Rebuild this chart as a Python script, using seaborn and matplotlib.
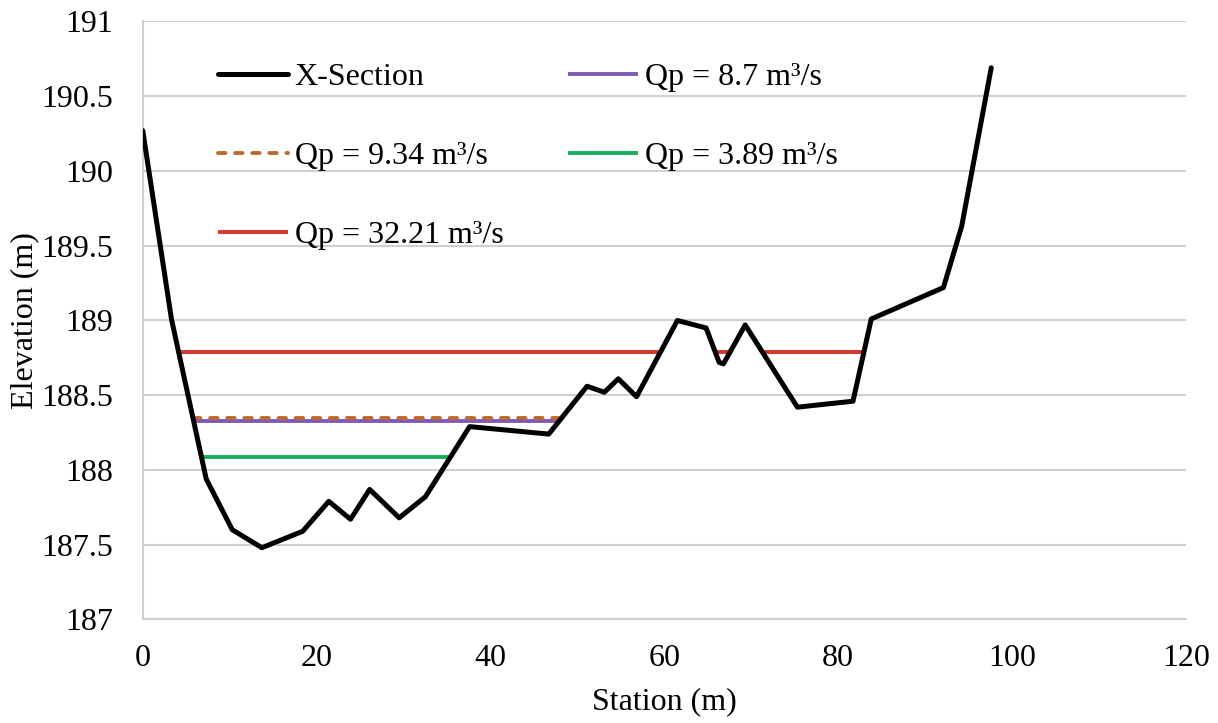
import numpy as np
import pandas as pd
import matplotlib
matplotlib.use("Agg")
import matplotlib.pyplot as plt
from matplotlib.lines import Line2D
import seaborn as sns

# Cross-section survey: station (m) and ground elevation (m)
station = [0.0, 3.3, 7.3, 10.3, 13.7, 18.4, 21.4, 23.9, 26.1, 29.5, 32.5, 37.6,
           46.7, 51.1, 53.1, 54.7, 56.8, 61.5, 64.8, 66.3, 66.8, 69.3, 75.3,
           81.7, 83.8, 92.1, 94.2, 97.6]
elevation = [190.27, 189.01, 187.94, 187.60, 187.48, 187.59, 187.79, 187.67,
             187.87, 187.68, 187.82, 188.29, 188.24, 188.56, 188.52, 188.61,
             188.49, 189.00, 188.95, 188.72, 188.71, 188.97, 188.42, 188.46,
             189.01, 189.22, 189.63, 190.69]

# Water surface elevations for each peak discharge
flow_labels = ["Qp = 8.7 m³/s", "Qp = 9.34 m³/s", "Qp = 3.89 m³/s", "Qp = 32.21 m³/s"]
water_levels = [188.33, 188.35, 188.09, 188.79]
flow_colors = ["#7E5BB6", "#C0692F", "#17AE5C", "#D8332A"]
flow_dashed = [False, True, False, False]

y_ticks = [187, 187.5, 188, 188.5, 189, 189.5, 190, 190.5, 191]
x_ticks = [0, 20, 40, 60, 80, 100, 120]

FS = 23
LW_GROUND = 3.6
LW_WATER = 2.8
DASH = (0, (1.9, 2.5))


def wetted_segments(xs, zs, level):
    """Return (start, end) station pairs where the ground lies below the level."""
    xs = np.asarray(xs, float)
    zs = np.asarray(zs, float)
    segs = []
    start = None
    for i in range(len(xs) - 1):
        x0, x1, z0, z1 = xs[i], xs[i + 1], zs[i], zs[i + 1]
        if z0 >= level and z1 < level:
            start = x0 + (z0 - level) / (z0 - z1) * (x1 - x0)
        elif z0 < level and z1 >= level and start is not None:
            end = x0 + (level - z0) / (z1 - z0) * (x1 - x0)
            segs.append((start, end))
            start = None
    return segs


sns.set_theme(style="white")
plt.rcParams["font.family"] = ["Liberation Serif", "DejaVu Serif"]
plt.rcParams["font.size"] = FS
plt.rcParams["text.color"] = "black"
plt.rcParams["axes.labelcolor"] = "black"

fig = plt.figure(figsize=(12.18, 7.23), dpi=100)
ax = fig.add_axes([0.1172, 0.1432, 0.8565, 0.8271])

profile = pd.DataFrame({"Station": station, "Elevation": elevation})

# Water surface lines
for lab, lvl, col, dsh in zip(flow_labels, water_levels, flow_colors, flow_dashed):
    for (s, e) in wetted_segments(station, elevation, lvl):
        seg = pd.DataFrame({"Station": [s, e], "Elevation": [lvl, lvl]})
        sns.lineplot(data=seg, x="Station", y="Elevation", ax=ax, color=col,
                     linewidth=LW_WATER, sort=False, estimator=None, zorder=3,
                     linestyle=DASH if dsh else "-",
                     dash_capstyle="round", solid_capstyle="butt")

# Ground profile
sns.lineplot(data=profile, x="Station", y="Elevation", ax=ax, color="black",
             linewidth=LW_GROUND, sort=False, estimator=None, zorder=4)

ax.set_xlim(0, 120)
ax.set_ylim(187, 191)
ax.set_xticks(x_ticks)
ax.set_yticks(y_ticks)
ax.set_xticklabels([f"{t:g}" for t in x_ticks])
ax.set_yticklabels([f"{t:g}" for t in y_ticks])
ax.yaxis.grid(True, color="#D0D0D0", linewidth=1.5)
ax.xaxis.grid(False)
ax.tick_params(axis="both", length=0, labelsize=FS, colors="black")
ax.tick_params(axis="y", pad=21.5)
ax.tick_params(axis="x", pad=18)
for side in ["top", "right"]:
    ax.spines[side].set_visible(False)
for side in ["left", "bottom"]:
    ax.spines[side].set_color("#D0D0D0")
    ax.spines[side].set_linewidth(1.5)

ax.set_xlabel("Station (m)", fontsize=FS, labelpad=10, color="black")
ax.set_ylabel("Elevation (m)", fontsize=FS, labelpad=1, color="black")

# Legend, filled column by column
def handle(i):
    return Line2D([], [], color=flow_colors[i], linewidth=LW_WATER,
                  linestyle=DASH if flow_dashed[i] else "-",
                  dash_capstyle="round", solid_capstyle="butt")

handles = [Line2D([], [], color="black", linewidth=LW_GROUND), handle(1), handle(3),
           handle(0), handle(2)]
labels = ["X-Section", flow_labels[1], flow_labels[3], flow_labels[0], flow_labels[2]]
fig.legend(handles, labels, ncol=2, frameon=False, fontsize=FS,
           loc="upper left", bbox_to_anchor=(202 / 1218, 1 - 47 / 723),
           borderpad=0, handlelength=2.2, handletextpad=0.2,
           columnspacing=2.02, labelspacing=1.55, labelcolor="black")

fig.savefig("out.png", dpi=100)
